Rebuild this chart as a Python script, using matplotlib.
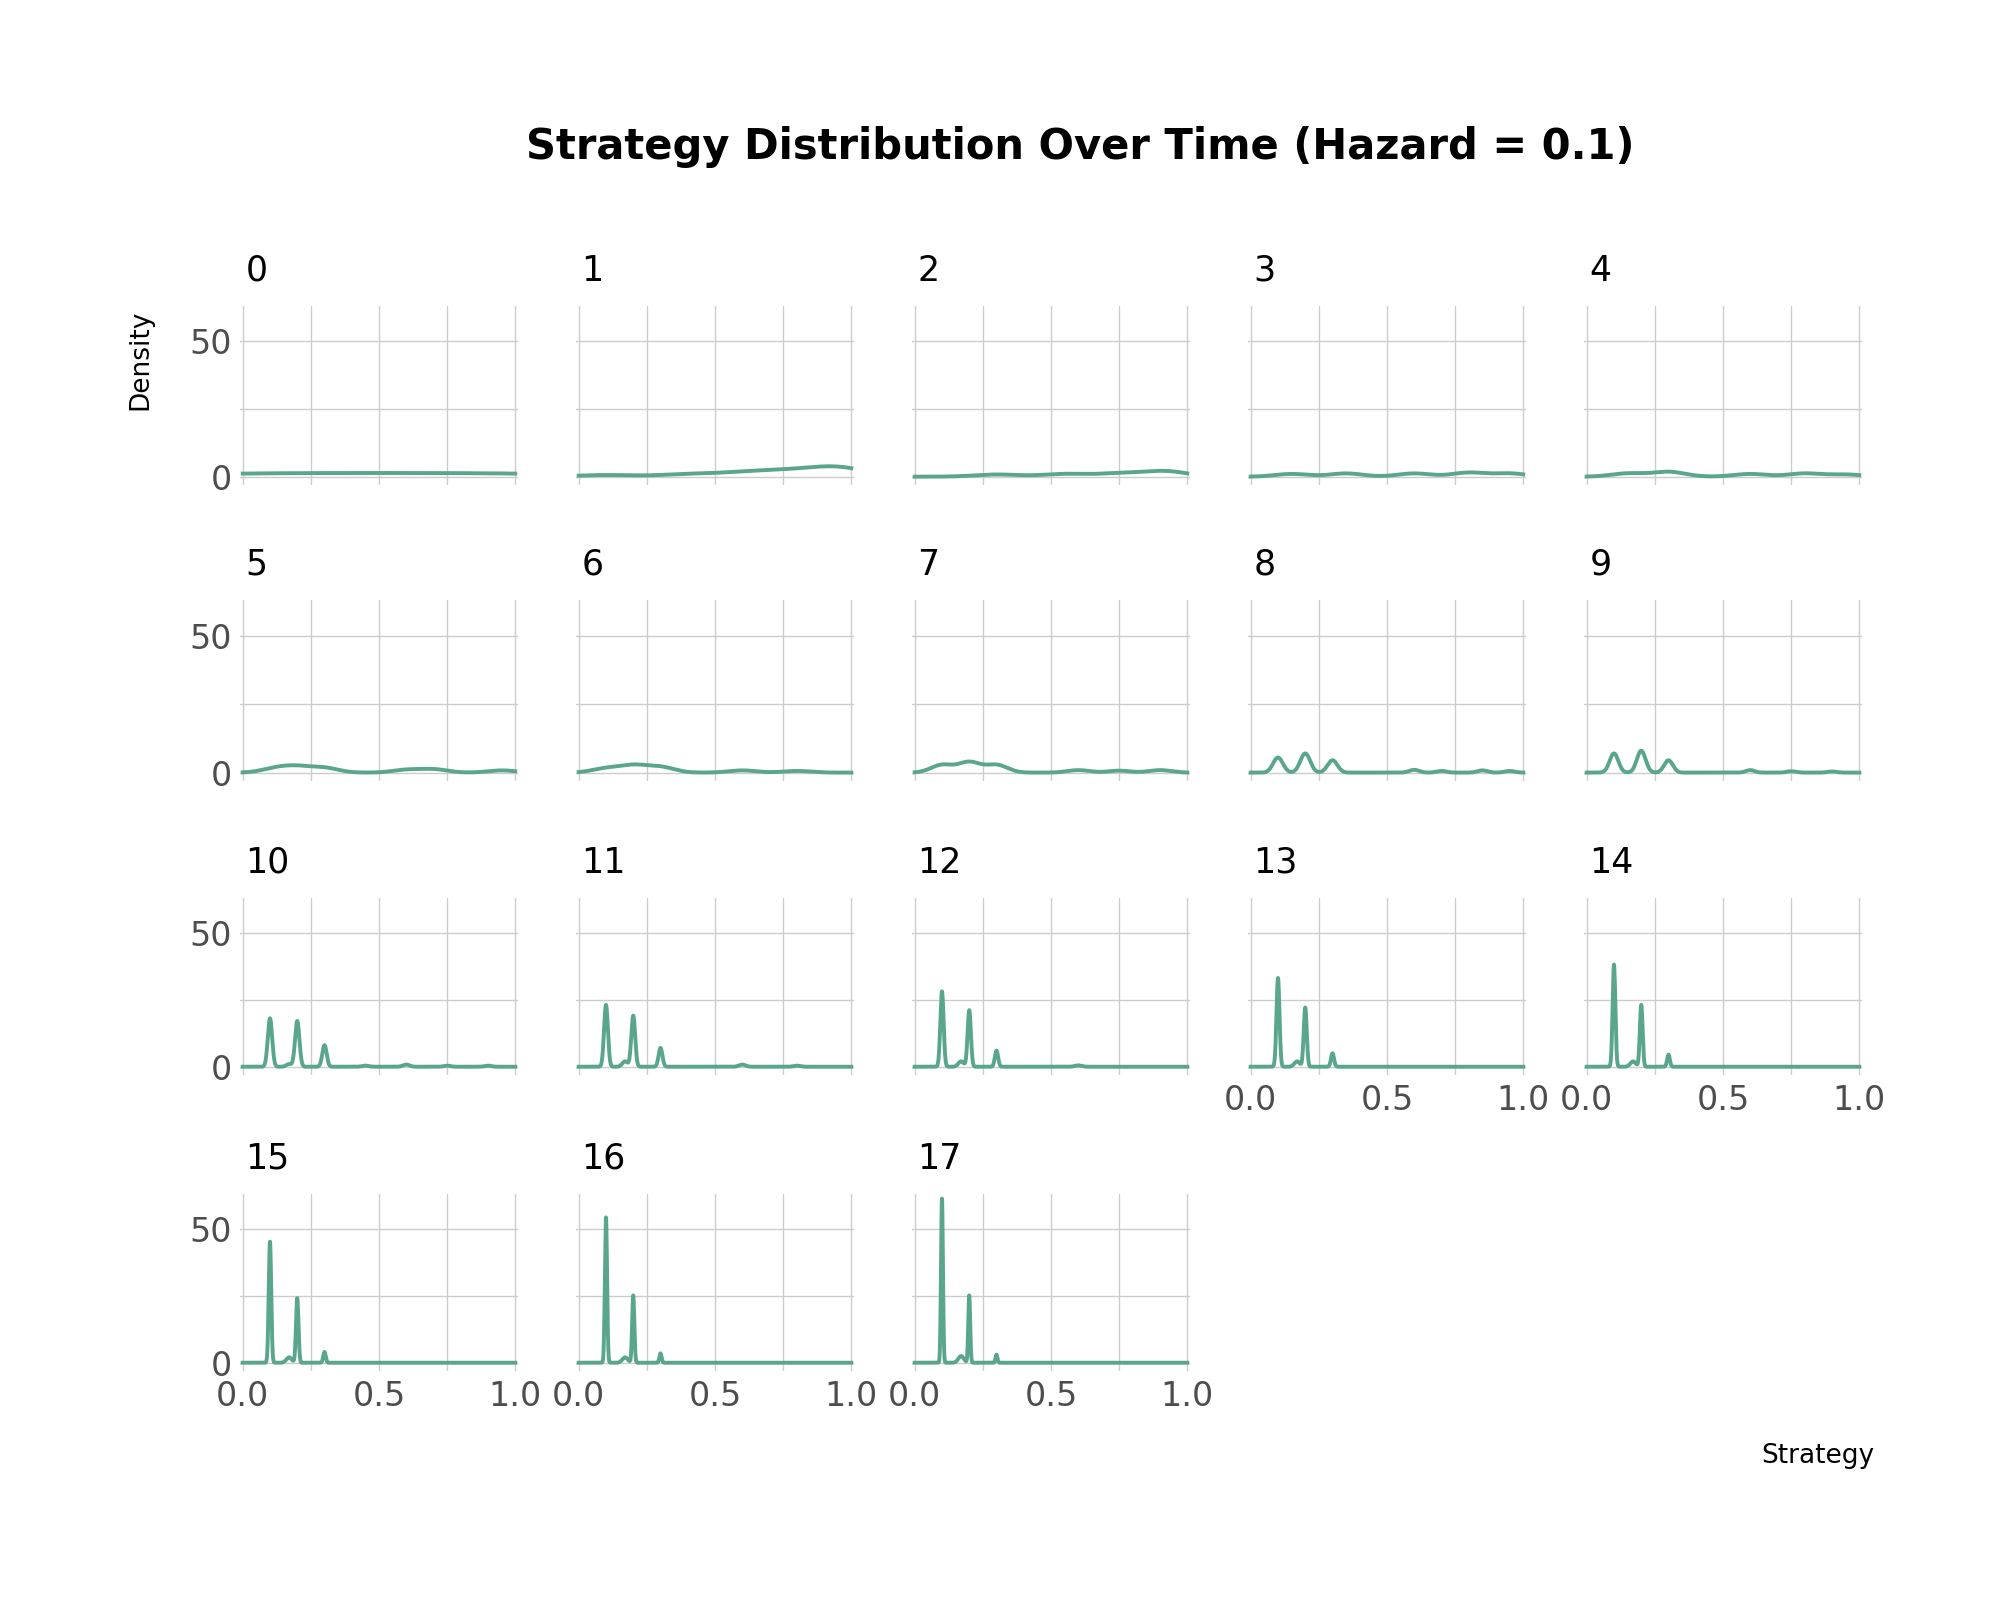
import numpy as np
import matplotlib
matplotlib.use("Agg")
import matplotlib.pyplot as plt
from matplotlib import font_manager

fams = {f.name for f in font_manager.fontManager.ttflist}
FONT = "Liberation Sans Narrow" if "Liberation Sans Narrow" in fams else "DejaVu Sans"
plt.rcParams['font.family'] = [FONT, 'DejaVu Sans']

panels = list(range(18))
# per panel: peak locations, heights, widths
peak_x = [
    [0.0, 0.5, 1.0],
    [0.1, 0.4, 0.6, 0.75, 0.9, 0.98],
    [0.3, 0.55, 0.75, 0.92],
    [0.15, 0.35, 0.6, 0.8, 0.95],
    [0.15, 0.3, 0.6, 0.8, 0.95],
    [0.12, 0.2, 0.3, 0.6, 0.7, 0.95],
    [0.1, 0.2, 0.3, 0.6, 0.8],
    [0.1, 0.2, 0.3, 0.6, 0.75, 0.9],
    [0.1, 0.2, 0.3, 0.6, 0.7, 0.85, 0.95],
    [0.1, 0.2, 0.3, 0.6, 0.75, 0.9],
    [0.1, 0.2, 0.3, 0.17, 0.45, 0.6, 0.75, 0.9],
    [0.1, 0.2, 0.3, 0.17, 0.6, 0.8],
    [0.1, 0.2, 0.3, 0.17, 0.6],
    [0.1, 0.2, 0.3, 0.17],
    [0.1, 0.2, 0.3, 0.17],
    [0.1, 0.2, 0.3, 0.17],
    [0.1, 0.2, 0.3, 0.17],
    [0.1, 0.2, 0.3, 0.17],
]
peak_h = [
    [0.9, 0.9, 0.9],
    [0.6, 0.9, 1.3, 1.6, 1.8, 2.0],
    [0.8, 1.0, 1.2, 2.0],
    [1.0, 1.2, 1.2, 1.5, 1.2],
    [1.2, 1.8, 1.0, 1.2, 0.8],
    [1.5, 2.0, 1.7, 1.0, 1.2, 0.8],
    [1.5, 2.5, 2.0, 0.8, 0.6],
    [2.8, 3.8, 2.8, 0.9, 0.7, 0.9],
    [5.5, 7.0, 4.5, 1.0, 0.6, 0.8, 0.6],
    [7.0, 8.0, 4.5, 0.9, 0.5, 0.4],
    [18, 17, 8, 1.0, 0.4, 0.8, 0.4, 0.4],
    [23, 19, 7, 2.0, 0.8, 0.4],
    [28, 21, 6, 2.0, 0.5],
    [33, 22, 5, 2.0],
    [38, 23, 4.5, 2.0],
    [45, 24, 4, 2.0],
    [54, 25, 3.5, 2.0],
    [61, 25, 3, 2.5],
]
peak_w = [0.3, 0.1, 0.08, 0.06, 0.06, 0.05, 0.05, 0.04, 0.018, 0.016,
          0.008, 0.007, 0.006, 0.0055, 0.005, 0.0045, 0.004, 0.0035]

COLOR = "#5aa58d"
fig = plt.figure(figsize=(20, 16), dpi=100)
lefts = [0.12, 0.288, 0.456, 0.624, 0.792]
rows = [(0.697, 0.809), (0.512, 0.625), (0.328, 0.439), (0.143, 0.254)]
xs = np.linspace(0, 1, 2000)
for p in panels:
    r, c = divmod(p, 5)
    b, t = rows[r]
    ax = fig.add_axes([lefts[c], b, 0.139, t - b])
    y = np.zeros_like(xs)
    for i, (px, ph) in enumerate(zip(peak_x[p], peak_h[p])):
        w = peak_w[p] if (p >= 8 and i < 3) or p < 8 else max(peak_w[p], 0.01)
        if p >= 10 and i >= 4:
            w = 0.012
        y = y + ph * np.exp(-0.5 * ((xs - px) / w) ** 2)
    if p >= 10:
        y = y + 0.15
    ax.plot(xs, y, color=COLOR, lw=2.8)
    ax.set_xlim(-0.01, 1.01)
    ax.set_ylim(-3, 63)
    ax.set_xticks([0, 0.25, 0.5, 0.75, 1.0])
    ax.set_yticks([0, 25, 50])
    ax.grid(True, color="#cccccc", lw=1.0)
    for s in ax.spines.values():
        s.set_visible(False)
    ax.tick_params(length=0, labelsize=24, colors="#4d4d4d", pad=6)
    ax.set_axisbelow(True)
    bottom = (r == 3) or (r == 2 and c >= 3)
    if bottom:
        ax.set_xticklabels(["0.0", "", "0.5", "", "1.0"])
    else:
        ax.set_xticklabels([])
    if c == 0:
        ax.set_yticklabels(["0", "", "50"])
    else:
        ax.set_yticklabels([])
    ax.text(0.02, 1.1, str(p), transform=ax.transAxes, fontsize=25,
            ha="left", va="bottom", color="black")

fig.text(0.54, 0.908, "Strategy Distribution Over Time (Hazard = 0.1)",
         ha="center", va="center", fontsize=30, fontweight="bold")
fig.text(0.07, 0.775, "Density", rotation=90, ha="center", va="center", fontsize=19)
fig.text(0.937, 0.09, "Strategy", ha="right", va="center", fontsize=19)
fig.savefig("out.png", dpi=100, facecolor="white")
